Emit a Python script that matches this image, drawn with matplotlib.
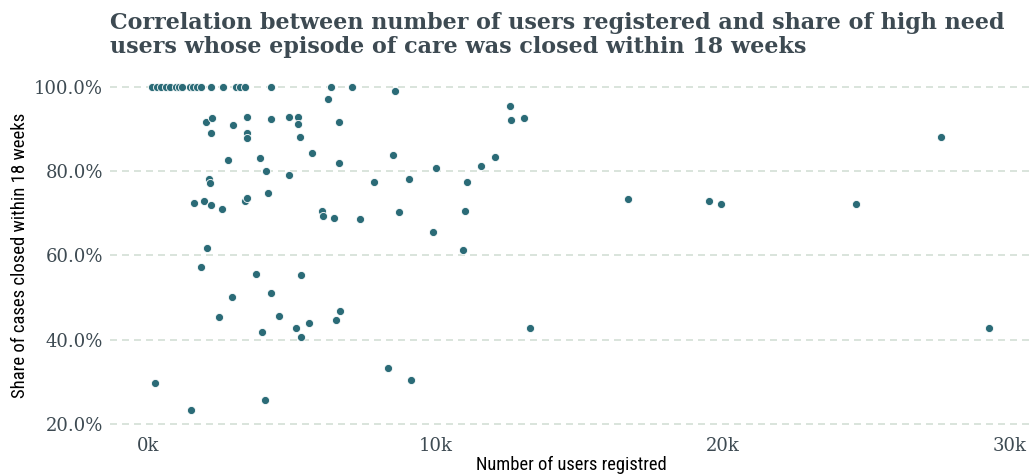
import matplotlib
matplotlib.use("Agg")
import matplotlib.pyplot as plt
from matplotlib.ticker import FuncFormatter

# ---- Data: number of users registered vs share closed within 18 weeks ----
users_full = [140, 310, 450, 630, 770, 970, 1080, 1180, 1460, 1570,
              1710, 1850, 2190, 2610, 3060, 3200, 3380, 4280, 6370, 7100]
share_full = [100.0] * len(users_full)

users_other = [8590, 6250, 2020, 2220, 2180, 2950, 3450, 3440, 3440, 4270,
               4910, 5210, 5210, 5290, 2800, 3900, 4110, 4900, 2130, 2160,
               4190, 1600, 1960, 2200, 2580, 3380, 3440, 2050, 1860, 3770,
               5310, 4290, 2920, 2470, 4560, 5150, 3980, 5320, 230, 4070,
               1490, 6660, 5710, 6660, 8530, 7860, 9080, 10030, 11090, 11600,
               12090, 12600, 12630, 13080, 6050, 6080, 6460, 7390, 8730, 11030,
               9920, 10970, 5610, 6550, 6690, 8360, 9150, 16720, 19540, 19950,
               13310, 27600, 24640, 29280]
share_other = [99.0, 97.1, 91.6, 92.6, 88.9, 91.0, 92.7, 89.1, 87.8, 92.3,
               92.7, 92.9, 91.1, 88.0, 82.5, 83.1, 80.0, 79.1, 78.1, 77.2,
               74.9, 72.5, 72.8, 72.0, 70.9, 73.0, 73.5, 61.7, 57.2, 55.6,
               55.4, 51.1, 50.1, 45.5, 45.7, 42.8, 41.9, 40.7, 29.9, 25.8,
               23.4, 91.5, 84.2, 82.0, 83.8, 77.3, 78.0, 80.7, 77.5, 81.2,
               83.3, 95.4, 92.1, 92.6, 70.6, 69.3, 68.8, 68.7, 70.2, 70.5,
               65.5, 61.3, 44.1, 44.6, 46.9, 33.3, 30.4, 73.3, 72.8, 72.1,
               42.9, 88.0, 72.2, 42.8]

users = users_full + users_other
share = share_full + share_other

x_ticks = [0, 10000, 20000, 30000]
y_ticks = [20, 40, 60, 80, 100]

title = ("Correlation between number of users registered and share of high need\n"
         "users whose episode of care was closed within 18 weeks")

text_color = "#3d4a52"
dot_color = "#2b6b77"
grid_color = "#d3dfd5"
label_font = ["Roboto Condensed", "Liberation Sans"]

# ---- Plot ----
fig = plt.figure(figsize=(10.32, 4.74), dpi=100)
ax = fig.add_axes([0.1066, 0.0928, 0.8934, 0.738])

ax.scatter(users, share, s=34, color=dot_color, edgecolor="white",
           linewidth=0.6, zorder=3)

ax.set_xlim(-1320, 30770)
ax.set_ylim(18.65, 101.5)
ax.set_xticks(x_ticks)
ax.set_yticks(y_ticks)
ax.xaxis.set_major_formatter(FuncFormatter(lambda v, p: f"{v / 1000:.0f}k"))
ax.yaxis.set_major_formatter(FuncFormatter(lambda v, p: f"{v:.1f}%"))

for s in ax.spines.values():
    s.set_visible(False)
ax.tick_params(length=0, labelsize=13, labelcolor=text_color, pad=5)
for lab in ax.get_xticklabels() + ax.get_yticklabels():
    lab.set_family("DejaVu Serif")

ax.yaxis.grid(True, color=grid_color, linestyle=(0, (4.2, 3)), linewidth=1.2)
ax.set_axisbelow(True)

ax.set_xlabel("Number of users registred", family=label_font,
              fontsize=13.3, color="black", labelpad=1)
ax.set_ylabel("Share of cases closed within 18 weeks", family=label_font,
              fontsize=13.5, color="black", labelpad=4)

fig.text(0.1066, 0.975, title, ha="left", va="top", family="DejaVu Serif",
         fontweight="bold", fontsize=16, color=text_color, linespacing=1.12)

plt.savefig("out.png", dpi=100)
